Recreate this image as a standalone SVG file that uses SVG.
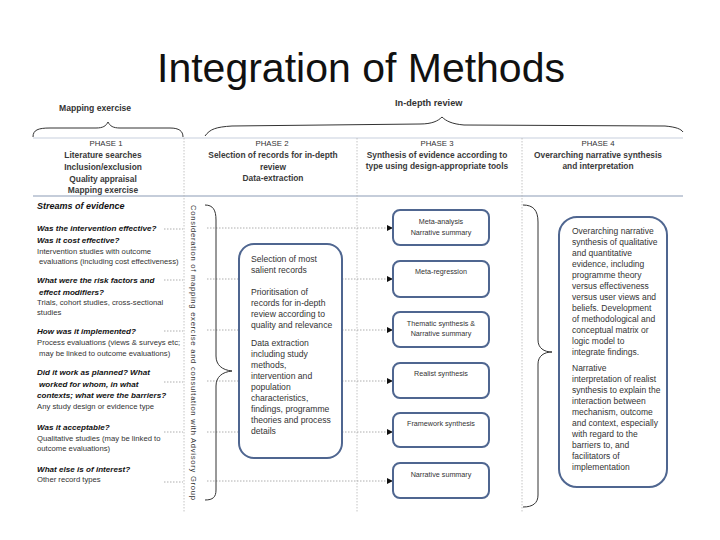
<svg xmlns="http://www.w3.org/2000/svg" width="720" height="540" viewBox="0 0 720 540">
<defs>
<style>
text{font-family:"Liberation Sans",Arial,sans-serif;fill:#222}
.title{font-size:41px;fill:#111}
.hd{font-size:8.6px;font-weight:bold;fill:#333}
.ph{font-size:7.8px;fill:#333}
.phb{font-size:8.4px;font-weight:bold;fill:#3a3a3a}
.q{font-size:8.1px;font-weight:bold;font-style:italic;fill:#111}
.s{font-size:7.7px;fill:#333}
.bx{font-size:8.6px;fill:#333}
.bx4{font-size:8.5px;fill:#333}
.sb{font-size:7.2px;fill:#333;text-anchor:middle}
.box{fill:#fff;stroke:#4f6690;stroke-width:2}
.dot{stroke:#9a9a9a;stroke-width:0.8;stroke-dasharray:1.5 1.5;fill:none}
.vdot{stroke:#b5b5b5;stroke-width:0.8;stroke-dasharray:1.5 1.5;fill:none}
.brace{fill:none;stroke:#333;stroke-width:1}
</style>
<marker id="ah" viewBox="0 0 10 10" refX="10" refY="5" markerWidth="6" markerHeight="6" orient="auto" markerUnits="userSpaceOnUse">
<path d="M0,0 L10,5 L0,10 Z" fill="#111"/>
</marker>
</defs>
<rect width="720" height="540" fill="#fff"/>
<text class="title" x="361" y="82" text-anchor="middle">Integration of Methods</text>

<g id="header">
<text class="hd" x="59" y="111">Mapping exercise</text>
<text class="hd" x="395" y="106" style="font-size:9.2px">In-depth review</text>
<path class="brace" d="M33,137 C33,130 38,128 50,128 L96,128 C103,128 106,126 108,122 C110,126 113,128 120,128 L170,128 C179,128 183,131 183,137"/>
<path class="brace" d="M205,136 C210,129 216,127 232,126 L420,124 C432,124 438,121 442,117 C446,121 452,124 464,125 L665,126 C676,127 681,129 683,132"/>
<line x1="33" y1="138" x2="683" y2="138" stroke="#c7d0de" stroke-width="1.2"/>
<line x1="33" y1="196" x2="683" y2="196" stroke="#8c9bb6" stroke-width="1.2"/>
<line class="vdot" x1="184" y1="138" x2="184" y2="512"/>
<line class="vdot" x1="357" y1="138" x2="357" y2="512"/>
<line class="vdot" x1="522" y1="138" x2="522" y2="512"/>
</g>

<g id="phase1-head">
<text class="ph" x="106" y="146" text-anchor="middle">PHASE 1</text>
<text class="phb" x="103" y="158" text-anchor="middle">Literature searches</text>
<text class="phb" x="103" y="170" text-anchor="middle">Inclusion/exclusion</text>
<text class="phb" x="103" y="182" text-anchor="middle">Quality appraisal</text>
<text class="phb" x="103" y="193" text-anchor="middle">Mapping exercise</text>
</g>
<g id="phase2-head">
<text class="ph" x="272" y="146" text-anchor="middle">PHASE 2</text>
<text class="phb" x="273" y="158" text-anchor="middle">Selection of records for in-depth</text>
<text class="phb" x="273" y="170" text-anchor="middle">review</text>
<text class="phb" x="273" y="181" text-anchor="middle">Data-extraction</text>
</g>
<g id="phase3-head">
<text class="ph" x="437" y="146" text-anchor="middle">PHASE 3</text>
<text class="phb" x="437" y="158" text-anchor="middle">Synthesis of evidence according to</text>
<text class="phb" x="437" y="169" text-anchor="middle">type using design-appropriate tools</text>
</g>
<g id="phase4-head">
<text class="ph" x="598" y="146" text-anchor="middle">PHASE 4</text>
<text class="phb" x="598" y="158" text-anchor="middle">Overarching narrative synthesis</text>
<text class="phb" x="598" y="169" text-anchor="middle">and interpretation</text>
</g>

<g id="streams">
<text x="37" y="209" style="font-size:9px;font-weight:bold;font-style:italic;fill:#111">Streams of evidence</text>
<text class="q" x="37" y="231">Was the intervention effective?</text>
<text class="q" x="37" y="243">Was it cost effective?</text>
<text class="s" x="37" y="254">Intervention studies with outcome</text>
<text class="s" x="39" y="264">evaluations (including cost effectiveness)</text>
<text class="q" x="37" y="283">What were the risk factors and</text>
<text class="q" x="39" y="295">effect modifiers?</text>
<text class="s" x="37" y="305">Trials, cohort studies, cross-sectional</text>
<text class="s" x="37" y="315">studies</text>
<text class="q" x="37" y="334">How was it implemented?</text>
<text class="s" x="37" y="345">Process evaluations (views &amp; surveys etc;</text>
<text class="s" x="39" y="356">may be linked to outcome evaluations)</text>
<text class="q" x="37" y="375">Did it work as planned? What</text>
<text class="q" x="39" y="387">worked for whom, in what</text>
<text class="q" x="37" y="398">contexts;  what were the barriers?</text>
<text class="s" x="37" y="409">Any study design or evidence type</text>
<text class="q" x="37" y="430">Was it acceptable?</text>
<text class="s" x="37" y="441">Qualitative studies (may be linked to</text>
<text class="s" x="37" y="451">outcome evaluations)</text>
<text class="q" x="37" y="472">What else is of interest?</text>
<text class="s" x="37" y="482">Other record types</text>
</g>

<g id="advisory">
<text transform="translate(190.5,205) rotate(90)" x="0" y="0" style="font-size:7.6px;fill:#333" textLength="295" lengthAdjust="spacing">Consideration of mapping exercise and consultation with Advisory Group</text>
</g>

<g id="connectors">
<line class="dot" x1="164" y1="229" x2="183" y2="229"/>
<line class="dot" x1="164" y1="280" x2="183" y2="280"/>
<line class="dot" x1="164" y1="331" x2="183" y2="331"/>
<line class="dot" x1="164" y1="382" x2="183" y2="382"/>
<line class="dot" x1="164" y1="432" x2="183" y2="432"/>
<line class="dot" x1="164" y1="482" x2="183" y2="482"/>
<line class="dot" x1="207" y1="228" x2="393" y2="228" marker-end="url(#ah)"/>
<line class="dot" x1="207" y1="279" x2="393" y2="279" marker-end="url(#ah)"/>
<line class="dot" x1="207" y1="330" x2="393" y2="330" marker-end="url(#ah)"/>
<line class="dot" x1="207" y1="381" x2="393" y2="381" marker-end="url(#ah)"/>
<line class="dot" x1="207" y1="432" x2="393" y2="432" marker-end="url(#ah)"/>
<line class="dot" x1="207" y1="481" x2="393" y2="481" marker-end="url(#ah)"/>
<path class="brace" d="M205,205 C213,205 216,210 216,220 L216,356 C216,365 222,370 232,371 C222,372 216,377 216,386 L216,490 C216,497 213,500 205,500"/>
<path class="brace" d="M523,205 C533,205 538,210 538,222 L538,340 C538,348 544,352 552,352 C544,352 538,356 538,364 L538,495 C538,503 533,507 523,507"/>
</g>

<g id="phase2-box">
<rect class="box" x="239" y="244" width="103" height="214" rx="15"/>
<text class="bx" x="251" y="262">Selection of most</text>
<text class="bx" x="251" y="273">salient records</text>
<text class="bx" x="251" y="295">Prioritisation of</text>
<text class="bx" x="251" y="306">records for in-depth</text>
<text class="bx" x="251" y="317">review according to</text>
<text class="bx" x="251" y="328">quality and relevance</text>
<text class="bx" x="251" y="346">Data extraction</text>
<text class="bx" x="251" y="357">including study</text>
<text class="bx" x="251" y="368">methods,</text>
<text class="bx" x="251" y="379">intervention and</text>
<text class="bx" x="251" y="390">population</text>
<text class="bx" x="251" y="401">characteristics,</text>
<text class="bx" x="251" y="412">findings, programme</text>
<text class="bx" x="251" y="423">theories and process</text>
<text class="bx" x="251" y="434">details</text>
</g>

<g id="box-meta-analysis">
<rect class="box" x="393" y="210" width="96" height="35" rx="7"/>
<text class="sb" x="441" y="224">Meta-analysis</text>
<text class="sb" x="441" y="235">Narrative summary</text>
</g>
<g id="box-meta-regression">
<rect class="box" x="393" y="261" width="96" height="36" rx="7"/>
<text class="sb" x="441" y="274">Meta-regression</text>
</g>
<g id="box-thematic">
<rect class="box" x="393" y="312" width="96" height="35" rx="7"/>
<text class="sb" x="441" y="326">Thematic synthesis &amp;</text>
<text class="sb" x="441" y="336">Narrative summary</text>
</g>
<g id="box-realist">
<rect class="box" x="393" y="363" width="96" height="35" rx="7"/>
<text class="sb" x="441" y="376">Realist synthesis</text>
</g>
<g id="box-framework">
<rect class="box" x="393" y="413" width="96" height="34" rx="7"/>
<text class="sb" x="441" y="426">Framework synthesis</text>
</g>
<g id="box-narrative">
<rect class="box" x="393" y="463" width="96" height="35" rx="7"/>
<text class="sb" x="441" y="477">Narrative summary</text>
</g>

<g id="phase4-box">
<rect class="box" x="559" y="217" width="108" height="270" rx="18"/>
<text class="bx4" x="572" y="234">Overarching narrative</text>
<text class="bx4" x="572" y="245">synthesis of qualitative</text>
<text class="bx4" x="572" y="256">and quantitative</text>
<text class="bx4" x="572" y="267">evidence, including</text>
<text class="bx4" x="572" y="278">programme theory</text>
<text class="bx4" x="572" y="289">versus effectiveness</text>
<text class="bx4" x="572" y="300">versus user views and</text>
<text class="bx4" x="572" y="311">beliefs. Development</text>
<text class="bx4" x="572" y="322">of methodological and</text>
<text class="bx4" x="572" y="333">conceptual matrix or</text>
<text class="bx4" x="572" y="344">logic model to</text>
<text class="bx4" x="572" y="355">integrate findings.</text>
<text class="bx4" x="572" y="371">Narrative</text>
<text class="bx4" x="572" y="382">interpretation of realist</text>
<text class="bx4" x="572" y="393">synthesis to explain the</text>
<text class="bx4" x="572" y="404">interaction between</text>
<text class="bx4" x="572" y="415">mechanism, outcome</text>
<text class="bx4" x="572" y="426">and context, especially</text>
<text class="bx4" x="572" y="437">with regard to the</text>
<text class="bx4" x="572" y="448">barriers to, and</text>
<text class="bx4" x="572" y="459">facilitators of</text>
<text class="bx4" x="572" y="470">implementation</text>
</g>
</svg>
